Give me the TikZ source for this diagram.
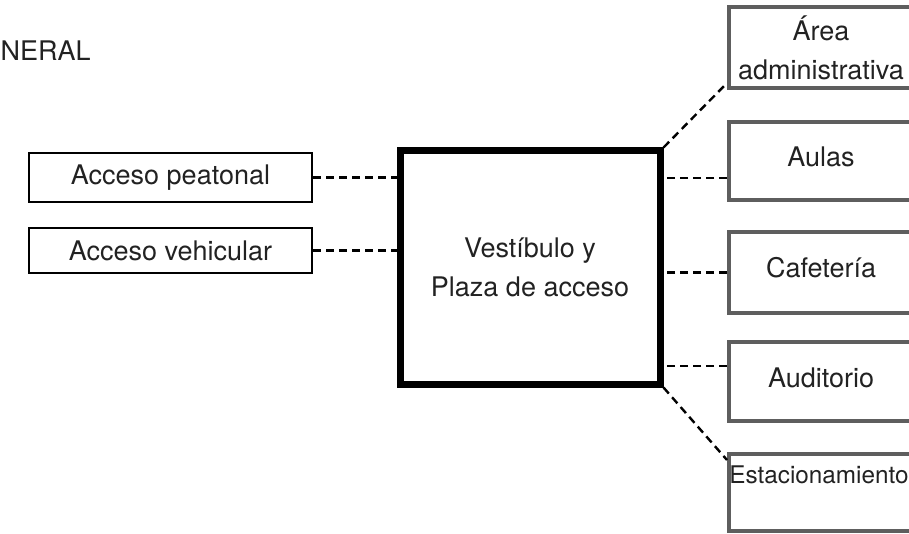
\documentclass[tikz,border=0pt]{standalone}
\usepackage{fontspec}
\setmainfont{TeX Gyre Heros}
\definecolor{txt}{HTML}{222222}
\definecolor{boxgray}{HTML}{5E5E5E}
\tikzset{
  leftbox/.style={draw=black, line width=2pt, minimum width=283pt, inner sep=0pt, text=txt},
  rightbox/.style={draw=boxgray, line width=4pt, minimum width=184pt, inner sep=0pt, text=txt, align=center},
  mainbox/.style={draw=black, line width=7pt, minimum width=260pt, minimum height=233pt, inner sep=0pt, text=txt, align=center},
  conn/.style={line width=2.4pt, dash pattern=on 8pt off 5pt, black},
  lbl/.style={text=txt, inner sep=0pt}
}
\begin{document}
\begin{tikzpicture}[x=1pt,y=-1pt,font=\fontsize{27}{39}\selectfont]
\useasboundingbox (0,0) rectangle (909,534);
\clip (0,0) rectangle (909,534);
% title fragment
\node[lbl, anchor=base west] (title) at (0.5,61) {NERAL};
% central box
\node[mainbox] (vest) at (530,267.5) {Vestíbulo y\\Plaza de acceso};
% left boxes
\node[leftbox, minimum height=49pt] (peat) at (170.5,177.5) {Acceso peatonal};
\node[leftbox, minimum height=45pt] (vehi) at (170.5,250.5) {Acceso vehicular};
% right boxes
\node[rightbox, minimum height=81pt] (area) at (821,47.5) {Área\\administrativa};
\node[rightbox, minimum height=78pt, text height=19pt, text depth=7pt] (aulas) at (821,161) {Aulas};
\node[rightbox, minimum height=81pt, text height=19pt, text depth=9pt] (cafe) at (821,272.5) {Cafetería};
\node[rightbox, minimum height=79pt, text height=19pt, text depth=7pt] (audi) at (821,381.5) {Auditorio};
\node[rightbox, minimum height=77pt] (estac) at (821,492.5) {};
\node[lbl, anchor=base, font=\fontsize{24.3}{30}\selectfont] (estaclbl) at (819,483) {Estacionamiento};
% connectors left
\draw[conn] (peat.east) -- (peat.east -| vest.west);
\draw[conn] (vehi.east) -- (vehi.east -| vest.west);
% connectors right
\coordinate (pa) at ([yshift=-17pt]aulas.west);
\coordinate (pc) at (cafe.west);
\coordinate (pd) at ([yshift=15.5pt]audi.west);
\draw[conn] (pa) -- (pa -| vest.east);
\draw[conn] (pc) -- (pc -| vest.east);
\draw[conn] (pd) -- (pd -| vest.east);
\draw[conn] (vest.north east) -- ([yshift=7pt]area.south west);
\draw[conn] (vest.south east) -- ([yshift=-8pt]estac.north west);
\end{tikzpicture}
\end{document}
